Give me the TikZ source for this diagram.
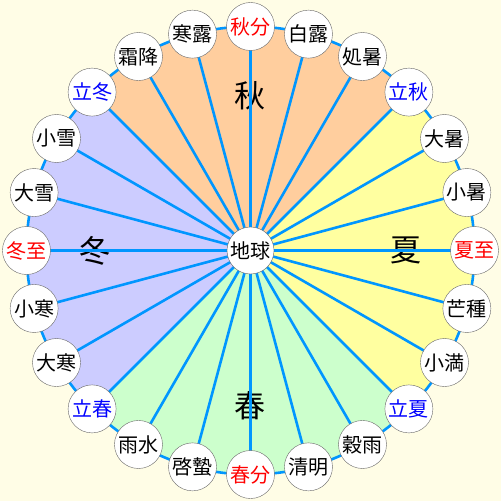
\documentclass[tikz,border=0pt]{standalone}
\usepackage{fontspec}
\newfontfamily\cjk{Noto Sans CJK JP}
\definecolor{bg}{RGB}{255,253,230}
\definecolor{aut}{RGB}{255,206,158}
\definecolor{sum}{RGB}{255,255,160}
\definecolor{spr}{RGB}{204,255,204}
\definecolor{win}{RGB}{204,204,255}
\definecolor{ln}{RGB}{0,150,255}
\tikzset{
  term/.style={circle,draw=gray!80!black,fill=white,minimum size=48pt,inner sep=0pt,font=\cjk\fontsize{20}{20}\selectfont},
  season/.style={font=\cjk\fontsize{31}{31}\selectfont},
  spoke/.style={draw=ln,line width=2.6pt},
}
\begin{document}
\begin{tikzpicture}[x=1pt,y=1pt]
\useasboundingbox (-250.5,-250.5) rectangle (250.5,250.5);
\fill[bg] (-250.5,-250.5) rectangle (250.5,250.5);
\fill[aut] (0,0) -- (45:224) arc (45:135:224) -- cycle;
\fill[win] (0,0) -- (135:224) arc (135:225:224) -- cycle;
\fill[spr] (0,0) -- (225:224) arc (225:315:224) -- cycle;
\fill[sum] (0,0) -- (-45:224) arc (-45:45:224) -- cycle;
\draw[ln,line width=2.6pt] (0,0) circle (224);
\node[season] (sA) at (90:155) {秋};
\node[season] (sS) at (0:155) {夏};
\node[season] (sP) at (270:155) {春};
\node[season] (sW) at (180:155) {冬};
\coordinate (c) at (0,0);
\foreach \a/\t/\c [count=\i] in {
 90/秋分/red,75/白露/black,60/処暑/black,45/立秋/blue,30/大暑/black,15/小暑/black,
 0/夏至/red,-15/芒種/black,-30/小満/black,-45/立夏/blue,-60/穀雨/black,-75/清明/black,
 -90/春分/red,-105/啓蟄/black,-120/雨水/black,-135/立春/blue,-150/大寒/black,-165/小寒/black,
 180/冬至/red,165/大雪/black,150/小雪/black,135/立冬/blue,120/霜降/black,105/寒露/black}{
  \coordinate (p\i) at (\a:224);
  \draw[spoke] (c) -- (p\i);
  \node[term,text=\c] (t\i) at (p\i) {\t};
}
\node[term,minimum size=47pt] (earth) at (c) {地球};
\end{tikzpicture}
\end{document}
